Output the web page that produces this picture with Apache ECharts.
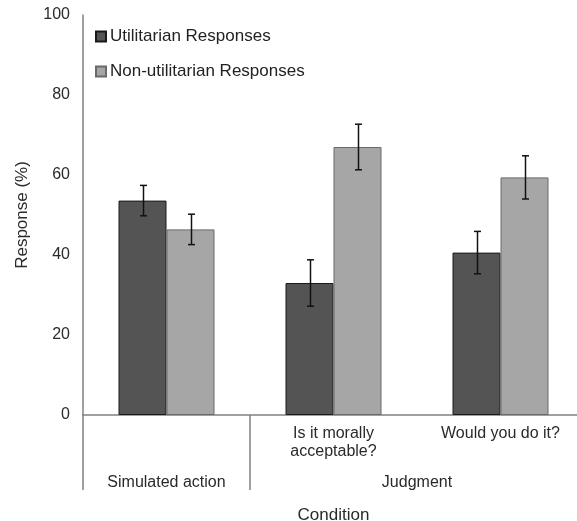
<!DOCTYPE html>
<html><head><meta charset="utf-8">
<script src="https://cdn.jsdelivr.net/npm/echarts@6/dist/echarts.min.js"></script>
<style>html,body{margin:0;padding:0;background:#fff;overflow:hidden}#c{width:577px;height:521px}</style>
</head><body><div id="c"></div>
<script>
const categories = ['', 'Is it morally\nacceptable?', 'Would you do it?'];
const groupLabels = ['Simulated action', 'Judgment'];
const groupCenters = [0.5, 2];
const groupBounds = [0, 1];
const utilitarian = [53.6, 33.0, 40.6];
const nonUtilitarian = [46.4, 67.0, 59.4];
const errUtil = [3.8, 5.8, 5.3];
const errNon = [3.8, 5.7, 5.4];
const yTicks = [0, 20, 40, 60, 80, 100];

const chart = echarts.init(document.getElementById('c'));
const font = 'Liberation Sans, Arial, sans-serif';
const BW = 48;

function errSeries(vals, errs, offset) {
  return {
    type: 'custom',
    z: 10,
    silent: true,
    data: vals.map((v, i) => [i, v, errs[i]]),
    renderItem: function (params, api) {
      const i = api.value(0), v = api.value(1), e = api.value(2);
      const hi = api.coord([i, v + e]);
      const lo = api.coord([i, v - e]);
      const x = Math.round(hi[0] + offset) + 0.5;
      const cap = 3.5;
      const st = { stroke: '#111', lineWidth: 1.5 };
      return { type: 'group', children: [
        { type: 'line', shape: { x1: x, y1: hi[1], x2: x, y2: lo[1] }, style: st },
        { type: 'line', shape: { x1: x - cap, y1: hi[1], x2: x + cap, y2: hi[1] }, style: st },
        { type: 'line', shape: { x1: x - cap, y1: lo[1], x2: x + cap, y2: lo[1] }, style: st }
      ]};
    }
  };
}

chart.setOption({
  animation: false,
  backgroundColor: '#fff',
  textStyle: { fontFamily: font },
  grid: { left: 83, top: 15, width: 501, bottom: 106, containLabel: false, outerBoundsMode: 'none' },
  legend: {
    orient: 'vertical', left: 90, top: 23, itemGap: 18,
    itemWidth: 10, itemHeight: 10, icon: 'rect',
    textStyle: { fontSize: 17, color: '#222', fontFamily: font, padding: [0, 0, 0, -1] },
    data: ['Utilitarian Responses', 'Non-utilitarian Responses']
  },
  xAxis: [
    {
      type: 'category', data: categories,
      axisLine: { lineStyle: { color: '#808080', width: 1.5 } },
      axisTick: { show: false },
      axisLabel: { fontSize: 16, color: '#2a2a2a', margin: 10, lineHeight: 18, interval: 0 },
      name: 'Condition', nameLocation: 'middle', nameGap: 92,
      nameTextStyle: { fontSize: 17, color: '#2a2a2a' }
    },
    {
      type: 'value', min: 0, max: 3, position: 'bottom',
      axisLine: { show: false },
      splitLine: { show: false },
      axisTick: { show: true, customValues: groupBounds, length: 75, lineStyle: { color: '#808080', width: 1.5 } },
      axisLabel: {
        show: true, customValues: groupCenters, margin: 60, fontSize: 16, color: '#2a2a2a',
        formatter: function (v) { return groupLabels[groupCenters.indexOf(v)] || ''; }
      }
    }
  ],
  yAxis: {
    type: 'value', min: 0, max: 100, interval: 20,
    axisLine: { show: true, lineStyle: { color: '#808080', width: 1.5 } },
    axisTick: { show: false },
    splitLine: { show: false },
    axisLabel: { fontSize: 16, color: '#2a2a2a', margin: 13,
      formatter: v => yTicks.includes(v) ? String(v) : '' },
    name: 'Response (%)', nameLocation: 'middle', nameGap: 52,
    nameTextStyle: { fontSize: 17, color: '#2a2a2a' }
  },
  series: [
    { name: 'Utilitarian Responses', type: 'bar', data: utilitarian, barWidth: BW, barGap: '0%',
      itemStyle: { color: '#545454', borderColor: '#1a1a1a', borderWidth: 1 } },
    { name: 'Non-utilitarian Responses', type: 'bar', data: nonUtilitarian, barWidth: BW, barGap: '0%',
      itemStyle: { color: '#a6a6a6', borderColor: '#6a6a6a', borderWidth: 1 } },
    errSeries(utilitarian, errUtil, -BW / 2),
    errSeries(nonUtilitarian, errNon, BW / 2)
  ]
});
</script></body></html>
